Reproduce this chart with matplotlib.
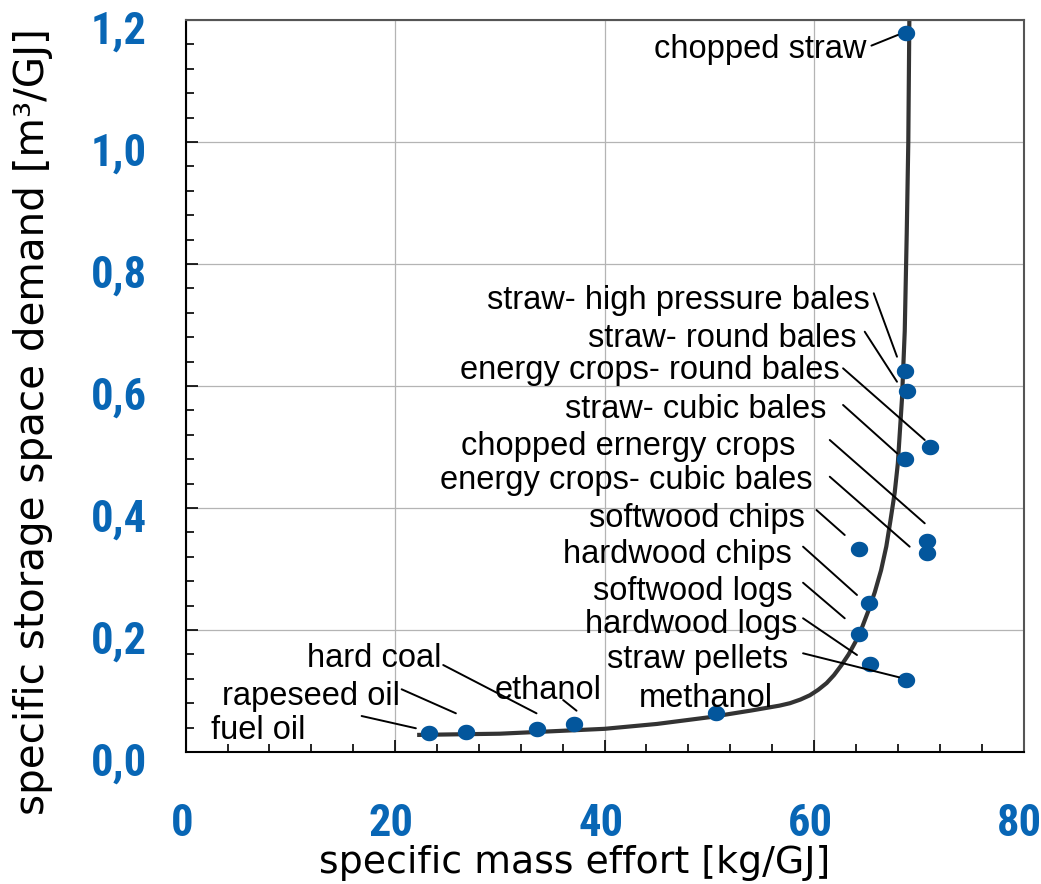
import numpy as np
import matplotlib
matplotlib.use('Agg')
import matplotlib.pyplot as plt
from matplotlib.path import Path
from matplotlib.ticker import MultipleLocator, FixedLocator, FuncFormatter
import matplotlib.transforms as mtransforms
from matplotlib import font_manager

# ---------------- data ----------------
fuels = ["chopped straw", "straw- high pressure bales", "straw- round bales",
         "energy crops- round bales", "straw- cubic bales", "chopped ernergy crops",
         "energy crops- cubic bales", "softwood chips", "hardwood chips",
         "softwood logs", "hardwood logs", "straw pellets", "methanol",
         "ethanol", "hard coal", "rapeseed oil", "fuel oil"]
mass_effort = [68.8, 68.66, 68.88, 71.04, 68.72, 70.75, 70.75, 64.27, 65.25,
               64.27, 65.31, 68.82, 50.68, 37.1, 33.5, 26.72, 23.25]
storage_demand = [1.179, 0.625, 0.592, 0.500, 0.481, 0.346, 0.327, 0.332, 0.244,
                  0.194, 0.145, 0.1175, 0.0634, 0.0464, 0.0382, 0.0333, 0.0306]

curve_mass = [22.1, 26.0, 30.0, 35.0, 40.0, 45.0, 50.0, 54.0, 56.7, 57.7, 58.7,
              59.6, 60.4, 61.2, 61.9, 62.6, 63.3, 64.0, 64.6, 65.2, 65.8, 66.4,
              66.9, 67.3, 67.7, 68.0, 68.4, 68.66, 68.85, 69.0, 69.1]
curve_storage = [0.028, 0.029, 0.030, 0.034, 0.038, 0.046, 0.057, 0.068, 0.076,
                 0.080, 0.086, 0.093, 0.102, 0.113, 0.126, 0.142, 0.160, 0.182,
                 0.205, 0.232, 0.262, 0.298, 0.337, 0.380, 0.425, 0.473, 0.580,
                 0.690, 0.850, 1.000, 1.200]

x_ticks = [0, 20, 40, 60, 80]
y_ticks = [0.0, 0.2, 0.4, 0.6, 0.8, 1.0, 1.2]

# label layout: (text right x, text baseline y, leader start, leader end) or None
label_layout = [
    (64.99, 1.137, (65.48, 1.158), (67.99, 1.1754)),
    (65.31, 0.7257, (65.70, 0.752), (67.92, 0.648)),
    (64.05, 0.6644, (64.84, 0.689), (67.92, 0.607)),
    (62.45, 0.611, (62.77, 0.629), (70.57, 0.5115)),
    (61.18, 0.547, (62.77, 0.5689), (67.92, 0.4897)),
    (58.25, 0.4869, (61.50, 0.5115), (70.57, 0.3749)),
    (59.85, 0.4307, (61.50, 0.4513), (69.13, 0.3366)),
    (59.11, 0.3693, (60.23, 0.3967), (62.93, 0.3557)),
    (57.84, 0.3103, (58.95, 0.3366), (64.10, 0.2574)),
    (57.94, 0.2492, (58.95, 0.2775), (62.93, 0.2192)),
    (58.38, 0.1956, (58.95, 0.2192), (64.10, 0.159)),
    (57.52, 0.1372, (58.95, 0.1618), (68.11, 0.1225)),
    (56.06, 0.0743, None, None),
    (39.71, 0.0864, (36.04, 0.0852), (37.32, 0.0677)),
    (24.43, 0.1398, (24.59, 0.1426), (33.50, 0.0634)),
    (20.45, 0.077, (20.62, 0.1028), (25.80, 0.0634)),
    (11.39, 0.0208, (16.80, 0.059), (21.98, 0.0389)),
]

# ---------------- styles ----------------
W, H = 1041, 884
BLUE_TXT = '#0866B5'
MARK = '#03569C'
LABEL_FONT = ['Liberation Sans', 'DejaVu Sans']
installed = {f.name for f in font_manager.fontManager.ttflist}
TICK_FONT = [f for f in ['Roboto Condensed', 'Open Sans Condensed',
                         'Liberation Sans Narrow', 'Liberation Sans', 'DejaVu Sans']
             if f in installed]
tick_size = 32 if TICK_FONT[0] in ('Roboto Condensed', 'Open Sans Condensed',
                                   'Liberation Sans Narrow') else 28

fig = plt.figure(figsize=(W / 100, H / 100), dpi=100)
ax = fig.add_axes([185.7 / W, 132 / H, 837.8 / W, 732 / H])

ax.set_xlim(0, 80)
ax.set_ylim(0, 1.2)

ax.grid(True, which='major', color='#b4b4b4', lw=0.9)
ax.set_axisbelow(True)

ax.plot(curve_mass, curve_storage, color='#333333', lw=3.0, zorder=2,
        solid_capstyle='butt', solid_joinstyle='round')

theta = np.linspace(0, 2 * np.pi, 64)
ell = Path(np.column_stack([1.12 * np.cos(theta), np.sin(theta)]), closed=True)
ax.plot(mass_effort, storage_demand, linestyle='none', marker=ell,
        markersize=12.5, color=MARK, markeredgewidth=0, zorder=3)

for name, lay in zip(fuels, label_layout):
    tx, ty, s, e = lay
    ax.text(tx, ty, name, ha='right', va='baseline', fontsize=23.5,
            family=LABEL_FONT, color='black', zorder=4)
    if s is not None:
        ax.annotate('', xy=e, xytext=s,
                    arrowprops=dict(arrowstyle='-', lw=1.4, color='black',
                                    shrinkA=0, shrinkB=0), zorder=4)

# ticks
ax.xaxis.set_major_locator(FixedLocator(x_ticks))
ax.yaxis.set_major_locator(FixedLocator(y_ticks))
ax.xaxis.set_minor_locator(MultipleLocator(4))
ax.yaxis.set_minor_locator(MultipleLocator(0.04))
ax.xaxis.set_major_formatter(FuncFormatter(lambda v, p: f"{v:.0f}"))
ax.yaxis.set_major_formatter(FuncFormatter(lambda v, p: f"{v:.1f}".replace('.', ',')))
ax.tick_params(which='both', direction='in', top=False, right=False, width=1.2,
               colors='black')
ax.tick_params(which='major', length=8.6)
ax.tick_params(which='minor', length=5.8)
ax.tick_params(axis='x', which='major', pad=37)
ax.tick_params(axis='y', which='major', pad=28)
for lab in ax.get_xticklabels() + ax.get_yticklabels():
    lab.set_fontfamily(TICK_FONT)
    lab.set_fontweight('bold')
    lab.set_fontsize(tick_size)
    lab.set_color(BLUE_TXT)
offset = mtransforms.ScaledTranslation(0, -0.07, fig.dpi_scale_trans)
for lab in ax.get_yticklabels():
    lab.set_transform(lab.get_transform() + offset)
xoff = mtransforms.ScaledTranslation(-0.04, 0, fig.dpi_scale_trans)
for lab in ax.get_xticklabels():
    lab.set_transform(lab.get_transform() + xoff)

for side in ['left', 'bottom']:
    ax.spines[side].set_color('black')
    ax.spines[side].set_linewidth(1.5)
for side in ['top', 'right']:
    ax.spines[side].set_color('#555555')
    ax.spines[side].set_linewidth(1.5)

ax.set_xlabel('specific mass effort [kg/GJ]', fontsize=27.3,
              family=['DejaVu Sans'], va='center')
ax.xaxis.set_label_coords(0.464, -0.152)
ax.set_ylabel('specific storage space demand [m³/GJ]', fontsize=29.2,
              family=['DejaVu Sans'], va='center')
ax.yaxis.set_label_coords(-0.182, 0.451)

fig.savefig('out.png', dpi=100)
